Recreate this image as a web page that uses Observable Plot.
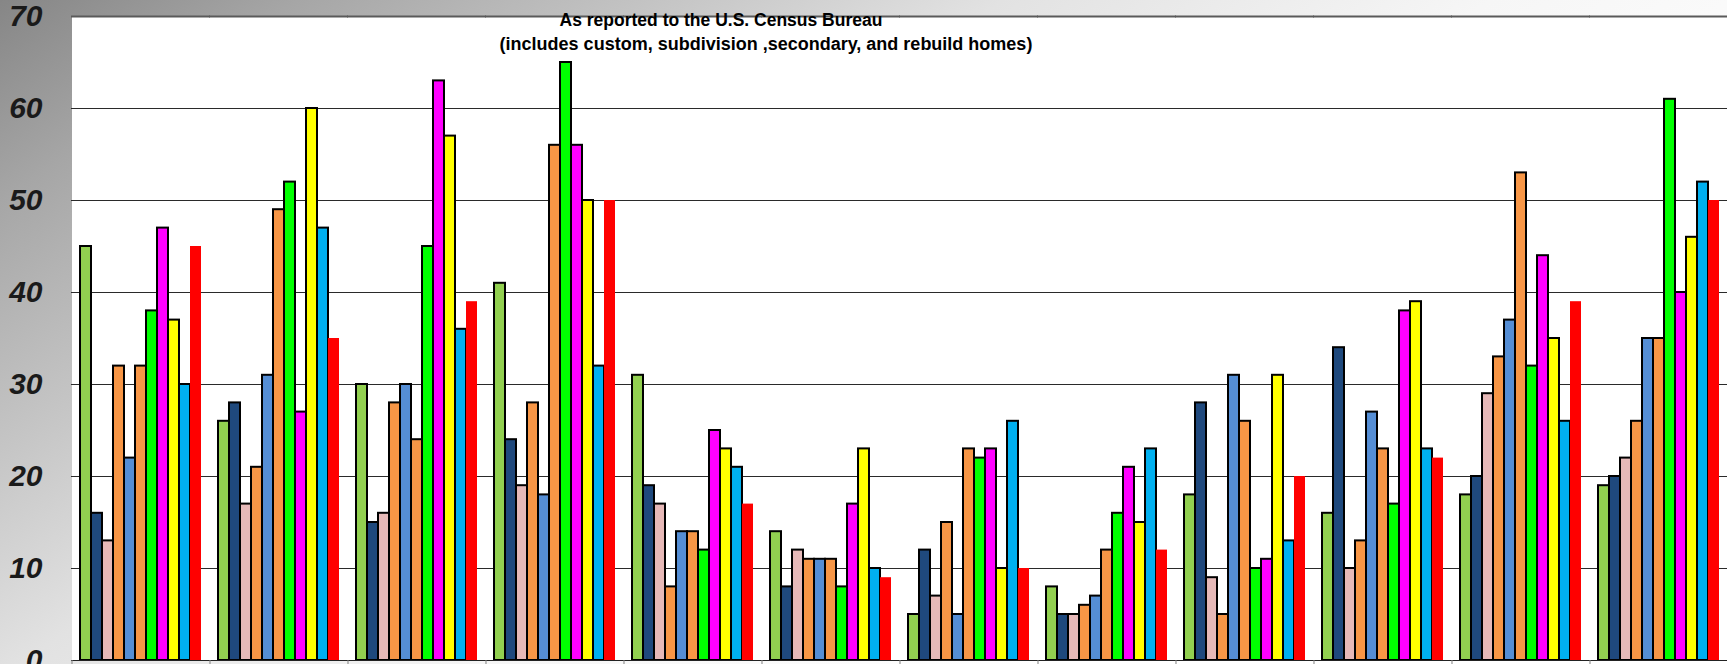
<!DOCTYPE html>
<html>
<head>
<meta charset="utf-8">
<script src="https://cdn.jsdelivr.net/npm/d3@7"></script>
<script src="https://cdn.jsdelivr.net/npm/@observablehq/plot@0.6"></script>
<style>
  html, body { margin: 0; padding: 0; }
  body {
    width: 1727px; height: 664px; overflow: hidden; position: relative;
    background: linear-gradient(146deg, #868686 0%, #a6a6a6 11%, #c6c6c6 25%, #e2e2e2 37%, #f6f6f6 55%, #ffffff 75%);
    font-family: "Liberation Sans", Arial, sans-serif;
  }
  #chart { position: absolute; left: 0; top: 0; }
  #chart svg text { font-size: 30px !important; font-weight: bold; font-style: italic; fill: #1a1a1a; }
  #chart svg [aria-label="y-axis line"] *, #chart svg path.domain { stroke: #808080 !important; }
  .title { position: absolute; font-weight: bold; color: #000; white-space: nowrap; transform: translateX(-50%); line-height: 1; }
</style>
</head>
<body>
<div id="chart"></div>
<div class="title" style="left:721px; top:12px; font-size:17.5px;">As reported to the U.S. Census Bureau</div>
<div class="title" style="left:766px; top:35px; font-size:18px;">(includes custom, subdivision ,secondary, and rebuild homes)</div>
<script>
// Categories (groups along x; labels are cut off in the original)
const categories = ["Jan", "Feb", "Mar", "Apr", "May", "Jun", "Jul", "Aug", "Sep", "Oct", "Nov", "Dec"];
// Series (one bar per series inside each group)
const seriesNames = ["S1", "S2", "S3", "S4", "S5", "S6", "S7", "S8", "S9", "S10", "S11"];
const seriesColors = ["#92D050", "#1F497D", "#E6B9B8", "#F79646", "#558ED5", "#F79646", "#00FF00", "#FF00FF", "#FFFF00", "#00B0F0", "#FF0000"];

const s1  = [45, 26, 30, 41, 31, 14,  5,  8, 18, 16, 18, 19];
const s2  = [16, 28, 15, 24, 19,  8, 12,  5, 28, 34, 20, 20];
const s3  = [13, 17, 16, 19, 17, 12,  7,  5,  9, 10, 29, 22];
const s4  = [32, 21, 28, 28,  8, 11, 15,  6,  5, 13, 33, 26];
const s5  = [22, 31, 30, 18, 14, 11,  5,  7, 31, 27, 37, 35];
const s6  = [32, 49, 24, 56, 14, 11, 23, 12, 26, 23, 53, 35];
const s7  = [38, 52, 45, 65, 12,  8, 22, 16, 10, 17, 32, 61];
const s8  = [47, 27, 63, 56, 25, 17, 23, 21, 11, 38, 44, 40];
const s9  = [37, 60, 57, 50, 23, 23, 10, 15, 31, 39, 35, 46];
const s10 = [30, 47, 36, 32, 21, 10, 26, 23, 13, 23, 26, 52];
const s11 = [45, 35, 39, 50, 17,  9, 10, 12, 20, 22, 39, 50];

const yTicks = [0, 10, 20, 30, 40, 50, 60, 70];
const gridTicks = [10, 20, 30, 40, 50, 60];

const seriesValues = [s1, s2, s3, s4, s5, s6, s7, s8, s9, s10, s11];
const table = seriesValues.flatMap((vals, si) =>
  vals.map((v, ci) => ({category: categories[ci], series: seriesNames[si], value: v}))
);
const lastSeries = seriesNames[seriesNames.length - 1];

// layout
const W = 1727, H = 664, mL = 71, mR = 0;
const gapRatio = 0.1232;
const step = (W - mL - mR) / categories.length;
const halfGapPx = step * gapRatio / 2;
const barW = step * (1 - gapRatio) / seriesNames.length;

const chart = Plot.plot({
  width: W,
  height: H,
  marginLeft: mL,
  marginRight: mR,
  marginTop: 16,
  marginBottom: 4,
  style: {
    background: "transparent",
    fontFamily: "'Liberation Sans', Arial, sans-serif",
    fontSize: "30px",
    fontWeight: "bold",
    fontStyle: "italic",
    color: "#1a1a1a",
    overflow: "visible"
  },
  fx: {domain: categories, paddingInner: gapRatio, paddingOuter: gapRatio / 2, axis: null},
  x: {domain: seriesNames, padding: 0, axis: null},
  y: {domain: [0, 70], ticks: yTicks, tickSize: 8, tickPadding: 30, label: null, line: true},
  color: {domain: seriesNames, range: seriesColors},
  facet: {data: table, x: "category"},
  marks: [
    Plot.frame({fill: "white", stroke: "none", insetLeft: -halfGapPx, insetRight: -halfGapPx}),
    Plot.ruleY(gridTicks, {stroke: "#2a2a2a", strokeWidth: 1, insetLeft: -halfGapPx - 0.5, insetRight: -halfGapPx - 0.5}),
    Plot.barY(table, {filter: d => d.series !== lastSeries, x: "series", y: "value", fill: "series", stroke: "#000", strokeWidth: 2}),
    Plot.barY(table, {filter: d => d.series === lastSeries, x: "series", y: "value", fill: "series"}),
    Plot.ruleY([0], {stroke: "#222", strokeWidth: 1, insetLeft: -halfGapPx - 0.5, insetRight: -halfGapPx - 0.5}),
    Plot.ruleY([70], {stroke: "#5a5a5a", strokeWidth: 2, insetLeft: -halfGapPx - 0.5, insetRight: -halfGapPx - 0.5}),
    // group-boundary ticks below the baseline
    Plot.ruleX([seriesNames[0]], {x: d => d, y1: 0, y2: 0, insetBottom: -4, dx: -(barW / 2 + halfGapPx), stroke: "#808080", strokeWidth: 1})
  ]
});
document.getElementById("chart").appendChild(chart);
</script>
</body>
</html>
